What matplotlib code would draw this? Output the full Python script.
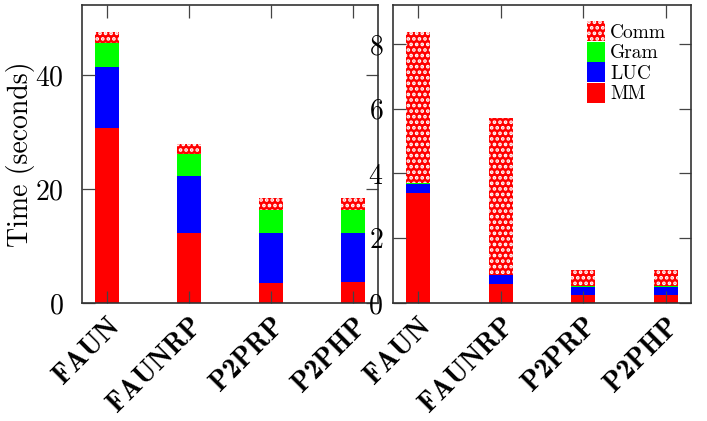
import numpy as np
import matplotlib
matplotlib.use("Agg")
import matplotlib.pyplot as plt
import matplotlib.transforms as mtransforms

plt.rcParams['font.family'] = ['cmr10', 'DejaVu Serif']
plt.rcParams['axes.unicode_minus'] = False
plt.rcParams['axes.formatter.use_mathtext'] = True
plt.rcParams['hatch.linewidth'] = 1.8

methods = ['FAUN', 'FAUNRP', 'P2PRP', 'P2PHP']

# left panel (seconds)
mm_left = [30.8, 12.2, 3.45, 3.75]
luc_left = [10.7, 10.1, 8.75, 8.45]
gram_left = [4.2, 3.8, 4.2, 4.2]
comm_left = [1.8, 1.8, 2.0, 2.0]

# right panel (seconds)
mm_right = [3.41, 0.58, 0.24, 0.24]
luc_right = [0.26, 0.27, 0.24, 0.24]
gram_right = [0.03, 0.02, 0.03, 0.03]
comm_right = [4.66, 4.83, 0.50, 0.50]

fig = plt.figure(figsize=(7.07, 4.21), dpi=100)
ax1 = fig.add_axes([82 / 707, 1 - 303 / 421, 296 / 707, 298 / 421])
ax2 = fig.add_axes([393 / 707, 1 - 303 / 421, 298 / 707, 298 / 421])

x = np.arange(len(methods))
width = 0.29


def stacked(ax, mm, luc, gram, comm):
    bottom = np.zeros(len(methods))
    handles = []
    for vals, color, label in [(mm, '#ff0000', 'MM'), (luc, '#0000ff', 'LUC'),
                               (gram, '#00ff00', 'Gram')]:
        h = ax.bar(x, vals, width, bottom=bottom, color=color, linewidth=0, label=label)
        handles.append(h)
        bottom = bottom + np.array(vals)
    h = ax.bar(x, comm, width, bottom=bottom, facecolor='#ff0000', edgecolor='white',
               hatch='...', linewidth=0, label='Comm')
    handles.append(h)
    return handles


stacked(ax1, mm_left, luc_left, gram_left, comm_left)
handles = stacked(ax2, mm_right, luc_right, gram_right, comm_right)

ax1.set_ylim(0, 52.3)
ax1.set_yticks([0, 20, 40])
ax2.set_ylim(0, 9.2)
ax2.set_yticks([0, 2, 4, 6, 8])

offset = mtransforms.ScaledTranslation(6 / 100, 0, fig.dpi_scale_trans)
for ax, pad in [(ax1, 13), (ax2, 7)]:
    ax.set_xlim(-0.3, 3.3)
    ax.set_xticks(x)
    ax.set_xticklabels(methods, rotation=45, ha='right', va='top',
                       rotation_mode='anchor', fontsize=20, family='cmb10')
    for lab in ax.get_xticklabels():
        lab.set_transform(lab.get_transform() + offset)
    ax.tick_params(axis='both', direction='in', length=9, width=0.9, color='#444444',
                   top=True, right=True, labelsize=20)
    ax.tick_params(axis='y', pad=pad)
    ax.tick_params(axis='x', pad=7)
    for s in ax.spines.values():
        s.set_color('#333333')
        s.set_linewidth(1.2)

ax1.set_ylabel('Time (seconds)', fontsize=20, labelpad=0)

ax2.legend(handles[::-1], ['Comm', 'Gram', 'LUC', 'MM'], loc='upper left',
           bbox_to_anchor=(0.651, 0.946), frameon=False, fontsize=14,
           handlelength=0.93, handleheight=1.2, labelspacing=0.0,
           handletextpad=0.25, borderpad=0, borderaxespad=0)

fig.savefig('out.png', dpi=100)
